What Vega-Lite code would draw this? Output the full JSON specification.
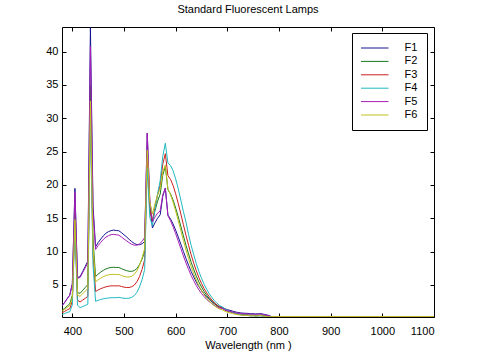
{
  "$schema": "https://vega.github.io/schema/vega-lite/v6.json",
  "autosize": "none",
  "width": 372,
  "height": 290,
  "padding": {"left": 62, "top": 27, "right": 46, "bottom": 42},
  "background": "white",
  "title": {"text": "Standard Fluorescent Lamps", "font": "Liberation Sans", "fontSize": 11, "fontWeight": "normal", "color": "black", "offset": 9, "anchor": "middle"},
  "config": {
    "view": {"stroke": "black", "strokeWidth": 1},
    "axis": {"grid": false, "domain": false, "tickColor": "black", "tickSize": 4, "offset": -4, "labelFont": "Liberation Sans", "labelFontSize": 11, "labelColor": "black", "titleFont": "Liberation Sans", "titleFontSize": 11, "titleFontWeight": "normal", "titleColor": "black"}
  },
  "data": {"values": [
    {"w":380,"F1":1.87,"F2":1.18,"F3":0.82,"F4":0.57,"F5":1.87,"F6":1.05},
    {"w":385,"F1":2.36,"F2":1.48,"F3":1.02,"F4":0.70,"F5":2.35,"F6":1.31},
    {"w":390,"F1":2.94,"F2":1.84,"F3":1.26,"F4":0.87,"F5":2.92,"F6":1.63},
    {"w":395,"F1":3.47,"F2":2.15,"F3":1.44,"F4":0.98,"F5":3.45,"F6":1.90},
    {"w":400,"F1":5.17,"F2":3.44,"F3":2.57,"F4":2.01,"F5":5.10,"F6":3.11},
    {"w":405,"F1":19.49,"F2":15.69,"F3":14.36,"F4":13.75,"F5":18.91,"F6":14.80},
    {"w":410,"F1":6.13,"F2":3.85,"F3":2.70,"F4":1.95,"F5":6.00,"F6":3.43},
    {"w":415,"F1":6.24,"F2":3.74,"F3":2.45,"F4":1.59,"F5":6.11,"F6":3.30},
    {"w":420,"F1":7.01,"F2":4.19,"F3":2.73,"F4":1.76,"F5":6.85,"F6":3.68},
    {"w":425,"F1":7.79,"F2":4.62,"F3":3.00,"F4":1.93,"F5":7.58,"F6":4.07},
    {"w":430,"F1":8.56,"F2":5.06,"F3":3.28,"F4":2.10,"F5":8.31,"F6":4.45},
    {"w":435,"F1":43.67,"F2":34.98,"F3":31.85,"F4":30.28,"F5":40.76,"F6":32.61},
    {"w":440,"F1":16.94,"F2":11.81,"F3":9.47,"F4":8.03,"F5":16.06,"F6":10.74},
    {"w":445,"F1":10.72,"F2":6.27,"F3":4.02,"F4":2.55,"F5":10.32,"F6":5.48},
    {"w":450,"F1":11.35,"F2":6.63,"F3":4.25,"F4":2.70,"F5":10.91,"F6":5.78},
    {"w":455,"F1":11.89,"F2":6.93,"F3":4.44,"F4":2.82,"F5":11.40,"F6":6.03},
    {"w":460,"F1":12.37,"F2":7.19,"F3":4.59,"F4":2.91,"F5":11.83,"F6":6.25},
    {"w":465,"F1":12.75,"F2":7.40,"F3":4.72,"F4":2.99,"F5":12.17,"F6":6.41},
    {"w":470,"F1":13.00,"F2":7.54,"F3":4.80,"F4":3.04,"F5":12.40,"F6":6.52},
    {"w":475,"F1":13.15,"F2":7.62,"F3":4.86,"F4":3.08,"F5":12.54,"F6":6.58},
    {"w":480,"F1":13.23,"F2":7.65,"F3":4.87,"F4":3.09,"F5":12.58,"F6":6.59},
    {"w":485,"F1":13.17,"F2":7.62,"F3":4.85,"F4":3.09,"F5":12.52,"F6":6.56},
    {"w":490,"F1":13.13,"F2":7.62,"F3":4.88,"F4":3.14,"F5":12.47,"F6":6.56},
    {"w":495,"F1":12.85,"F2":7.45,"F3":4.77,"F4":3.06,"F5":12.20,"F6":6.42},
    {"w":500,"F1":12.52,"F2":7.28,"F3":4.67,"F4":3.00,"F5":11.89,"F6":6.28},
    {"w":505,"F1":12.20,"F2":7.15,"F3":4.62,"F4":2.98,"F5":11.61,"F6":6.20},
    {"w":510,"F1":11.83,"F2":7.05,"F3":4.62,"F4":3.01,"F5":11.33,"F6":6.19},
    {"w":515,"F1":11.50,"F2":7.04,"F3":4.73,"F4":3.14,"F5":11.10,"F6":6.30},
    {"w":520,"F1":11.22,"F2":7.16,"F3":4.99,"F4":3.41,"F5":10.96,"F6":6.60},
    {"w":525,"F1":11.05,"F2":7.47,"F3":5.48,"F4":3.90,"F5":10.97,"F6":7.12},
    {"w":530,"F1":11.03,"F2":8.04,"F3":6.25,"F4":4.69,"F5":11.16,"F6":7.94},
    {"w":535,"F1":11.18,"F2":8.88,"F3":7.34,"F4":5.81,"F5":11.54,"F6":9.07},
    {"w":540,"F1":11.53,"F2":10.01,"F3":8.78,"F4":7.32,"F5":12.12,"F6":10.49},
    {"w":545,"F1":27.74,"F2":24.88,"F3":23.82,"F4":22.59,"F5":27.78,"F6":25.22},
    {"w":550,"F1":17.05,"F2":16.64,"F3":16.14,"F4":15.11,"F5":17.73,"F6":17.46},
    {"w":555,"F1":13.55,"F2":14.59,"F3":14.59,"F4":13.88,"F5":14.47,"F6":15.63},
    {"w":560,"F1":14.33,"F2":16.16,"F3":16.63,"F4":16.33,"F5":15.20,"F6":17.22},
    {"w":565,"F1":15.01,"F2":17.56,"F3":18.49,"F4":18.68,"F5":15.77,"F6":18.53},
    {"w":570,"F1":15.52,"F2":18.62,"F3":19.95,"F4":20.64,"F5":16.10,"F6":19.43},
    {"w":575,"F1":18.29,"F2":21.47,"F3":23.11,"F4":24.28,"F5":18.54,"F6":21.97},
    {"w":580,"F1":19.55,"F2":22.79,"F3":24.69,"F4":26.26,"F5":19.50,"F6":23.01},
    {"w":585,"F1":15.48,"F2":19.29,"F3":21.41,"F4":23.28,"F5":15.39,"F6":19.41},
    {"w":590,"F1":14.91,"F2":18.66,"F3":20.85,"F4":22.94,"F5":14.64,"F6":18.56},
    {"w":595,"F1":14.15,"F2":17.73,"F3":19.93,"F4":22.14,"F5":13.72,"F6":17.42},
    {"w":600,"F1":13.22,"F2":16.54,"F3":18.67,"F4":20.91,"F5":12.69,"F6":16.09},
    {"w":605,"F1":12.19,"F2":15.21,"F3":17.22,"F4":19.43,"F5":11.57,"F6":14.64},
    {"w":610,"F1":11.12,"F2":13.80,"F3":15.65,"F4":17.74,"F5":10.45,"F6":13.15},
    {"w":615,"F1":10.03,"F2":12.36,"F3":14.04,"F4":16.00,"F5":9.35,"F6":11.68},
    {"w":620,"F1":8.95,"F2":10.95,"F3":12.45,"F4":14.42,"F5":8.29,"F6":10.25},
    {"w":625,"F1":7.96,"F2":9.65,"F3":10.95,"F4":12.56,"F5":7.32,"F6":8.95},
    {"w":630,"F1":7.02,"F2":8.40,"F3":9.51,"F4":10.93,"F5":6.41,"F6":7.74},
    {"w":635,"F1":6.20,"F2":7.32,"F3":8.27,"F4":9.52,"F5":5.63,"F6":6.69},
    {"w":640,"F1":5.42,"F2":6.31,"F3":7.11,"F4":8.18,"F5":4.90,"F6":5.71},
    {"w":645,"F1":4.73,"F2":5.43,"F3":6.09,"F4":7.01,"F5":4.26,"F6":4.87},
    {"w":650,"F1":4.15,"F2":4.68,"F3":5.22,"F4":6.00,"F5":3.72,"F6":4.16},
    {"w":655,"F1":3.64,"F2":4.02,"F3":4.45,"F4":5.11,"F5":3.25,"F6":3.55},
    {"w":660,"F1":3.20,"F2":3.45,"F3":3.80,"F4":4.36,"F5":2.83,"F6":3.02},
    {"w":665,"F1":2.81,"F2":2.96,"F3":3.23,"F4":3.69,"F5":2.49,"F6":2.57},
    {"w":670,"F1":2.47,"F2":2.55,"F3":2.75,"F4":3.13,"F5":2.19,"F6":2.20},
    {"w":675,"F1":2.18,"F2":2.19,"F3":2.33,"F4":2.64,"F5":1.93,"F6":1.87},
    {"w":680,"F1":1.93,"F2":1.89,"F3":1.99,"F4":2.24,"F5":1.71,"F6":1.60},
    {"w":685,"F1":1.72,"F2":1.64,"F3":1.70,"F4":1.91,"F5":1.52,"F6":1.37},
    {"w":690,"F1":1.67,"F2":1.53,"F3":1.55,"F4":1.70,"F5":1.48,"F6":1.29},
    {"w":695,"F1":1.43,"F2":1.27,"F3":1.27,"F4":1.39,"F5":1.26,"F6":1.05},
    {"w":700,"F1":1.29,"F2":1.10,"F3":1.09,"F4":1.18,"F5":1.13,"F6":0.91},
    {"w":705,"F1":1.19,"F2":0.99,"F3":0.96,"F4":1.03,"F5":1.05,"F6":0.81},
    {"w":710,"F1":1.08,"F2":0.88,"F3":0.83,"F4":0.88,"F5":0.96,"F6":0.71},
    {"w":715,"F1":0.96,"F2":0.76,"F3":0.71,"F4":0.74,"F5":0.85,"F6":0.61},
    {"w":720,"F1":0.88,"F2":0.68,"F3":0.62,"F4":0.64,"F5":0.78,"F6":0.54},
    {"w":725,"F1":0.81,"F2":0.61,"F3":0.54,"F4":0.54,"F5":0.72,"F6":0.48},
    {"w":730,"F1":0.77,"F2":0.56,"F3":0.49,"F4":0.49,"F5":0.68,"F6":0.44},
    {"w":735,"F1":0.75,"F2":0.54,"F3":0.46,"F4":0.46,"F5":0.67,"F6":0.43},
    {"w":740,"F1":0.73,"F2":0.51,"F3":0.43,"F4":0.42,"F5":0.65,"F6":0.40},
    {"w":745,"F1":0.68,"F2":0.47,"F3":0.39,"F4":0.37,"F5":0.61,"F6":0.37},
    {"w":750,"F1":0.69,"F2":0.47,"F3":0.39,"F4":0.37,"F5":0.62,"F6":0.38},
    {"w":755,"F1":0.64,"F2":0.43,"F3":0.35,"F4":0.33,"F5":0.59,"F6":0.35},
    {"w":760,"F1":0.68,"F2":0.46,"F3":0.38,"F4":0.35,"F5":0.62,"F6":0.39},
    {"w":765,"F1":0.69,"F2":0.47,"F3":0.39,"F4":0.36,"F5":0.64,"F6":0.41},
    {"w":770,"F1":0.61,"F2":0.40,"F3":0.33,"F4":0.31,"F5":0.55,"F6":0.33},
    {"w":775,"F1":0.52,"F2":0.33,"F3":0.28,"F4":0.26,"F5":0.47,"F6":0.26},
    {"w":780,"F1":0.43,"F2":0.27,"F3":0.21,"F4":0.19,"F5":0.40,"F6":0.21},
    {"w":785,"F1":0.25,"F2":0.25,"F3":0.25,"F4":0.25,"F5":0.25,"F6":0.25},
    {"w":1100,"F1":0.25,"F2":0.25,"F3":0.25,"F4":0.25,"F5":0.25,"F6":0.25}
  ]},
  "transform": [{"fold": ["F1","F2","F3","F4","F5","F6"], "as": ["lamp","value"]}],
  "resolve": {"axis": {"x": "independent", "y": "independent"}},
  "layer": [
    {
      "mark": {"type": "line", "strokeWidth": 1, "clip": true},
      "encoding": {
        "x": {"field": "w", "type": "quantitative", "scale": {"domain": [380, 1100], "nice": false, "zero": false},
              "axis": {"values": [400,500,600,700,800,900,1000,1100], "format": "d", "title": "Wavelength (nm )", "labelPadding": 8, "titlePadding": 3}},
        "y": {"field": "value", "type": "quantitative", "scale": {"domain": [0.19, 43.7], "nice": false, "zero": false},
              "axis": {"values": [5,10,15,20,25,30,35,40], "title": null, "labelPadding": 4}},
        "color": {"field": "lamp", "type": "nominal",
                  "scale": {"domain": ["F1","F2","F3","F4","F5","F6"], "range": ["#141490","#1a7a1a","#cc1f1f","#1fb8c0","#a81eb8","#c0c01f"]},
                  "legend": {"title": null, "orient": "none", "legendX": 290, "legendY": 6, "symbolType": "stroke", "symbolSize": 900, "symbolStrokeWidth": 1, "symbolOffset": -3, "clipHeight": 12, "labelOffset": 15.5, "labelFont": "Liberation Sans", "labelFontSize": 11, "labelColor": "black", "strokeColor": "black", "fillColor": "white", "padding": 9, "rowPadding": 1.4}}
      }
    },
    {
      "mark": {"type": "point", "opacity": 0},
      "encoding": {
        "x": {"field": "w", "type": "quantitative", "axis": {"orient": "top", "values": [400,500,600,700,800,900,1000,1100], "labels": false, "title": null}},
        "y": {"field": "value", "type": "quantitative", "axis": {"orient": "right", "values": [5,10,15,20,25,30,35,40], "labels": false, "title": null}}
      }
    }
  ]
}
